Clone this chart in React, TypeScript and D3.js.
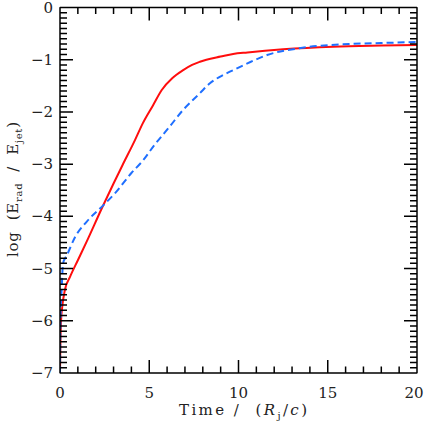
import { useRef, useEffect } from 'react'
import * as d3 from 'd3'

// red solid curve
const redTime = [0, 0.02, 0.06, 0.12, 0.28, 0.56, 1.0, 1.5, 2.35, 3.0, 3.5, 4.2, 4.65, 5.2, 5.7, 6.3, 6.9, 7.4, 7.84, 8.2, 9.0, 9.7, 10.5, 12.5, 15.3, 18, 20]
const redLog = [-7, -6.5, -6.0, -5.75, -5.4, -5.16, -4.84, -4.48, -3.84, -3.37, -3.02, -2.54, -2.21, -1.88, -1.58, -1.35, -1.2, -1.1, -1.04, -1.0, -0.94, -0.89, -0.86, -0.8, -0.75, -0.73, -0.72]

// blue dashed curve
const blueTime = [0, 0.02, 0.1, 0.17, 0.38, 0.84, 1.5, 2.45, 3.1, 4.0, 4.6, 5.3, 6.1, 6.9, 7.84, 8.4, 9.1, 9.7, 10.5, 11.6, 13.4, 16.2, 18, 20]
const blueLog = [-7, -6.1, -5.35, -4.9, -4.75, -4.4, -4.1, -3.78, -3.55, -3.17, -2.95, -2.63, -2.3, -1.96, -1.64, -1.45, -1.3, -1.2, -1.07, -0.91, -0.78, -0.7, -0.68, -0.66]

const xMajor = [0, 5, 10, 15, 20]
const xMinor = d3.range(0, 21, 1)
const yMajor = [0, -1, -2, -3, -4, -5, -6, -7]
const yMinor = d3.range(0, 71).map(i => -i / 10)

const width = 425
const height = 425
const margin = { top: 7.5, left: 60, bottom: 52, right: 8 }
const font = "'DejaVu Serif', 'Liberation Serif', serif"

const App = () => {
  const svgRef = useRef<SVGSVGElement>(null)

  useEffect(() => {
    const svg = d3.select(svgRef.current).attr('width', width).attr('height', height)
    svg.selectAll('*').remove()

    const x = d3.scaleLinear().domain([0, 20]).range([margin.left, width - margin.right])
    const y = d3.scaleLinear().domain([-7, 0]).range([height - margin.bottom, margin.top])

    svg.append('defs').append('clipPath').attr('id', 'plot')
      .append('rect')
      .attr('x', x(0)).attr('y', y(0))
      .attr('width', x(20) - x(0)).attr('height', y(-7) - y(0))

    // kurvat
    const series = [
      { t: redTime, v: redLog, color: '#ff0d0d', dash: 'none' },
      { t: blueTime, v: blueLog, color: '#1f6fff', dash: '7,4' },
    ]
    series.forEach(s => {
      const pts = s.t.map((t, i) => [t, s.v[i]] as [number, number])
      svg.append('path')
        .attr('clip-path', 'url(#plot)')
        .attr('fill', 'none')
        .attr('stroke', s.color)
        .attr('stroke-width', 2)
        .attr('stroke-dasharray', s.dash)
        .attr('d', d3.line<[number, number]>().x(d => x(d[0])).y(d => y(d[1])).curve(d3.curveMonotoneX)(pts))
    })

    // kehys ja tikit yhtenä jatkuvana polkuna (tikit "piikkeinä" reunalta sisään)
    const x0 = x(0), x1 = x(20), y0 = y(-7), y1 = y(0)
    const xLen = (t: number) => (xMajor.includes(t) ? 13 : 6.5)
    const yLen = (i: number) => (i % 10 === 0 ? 13 : 7)
    let d = `M${x0},${y0}`
    xMinor.forEach(t => { d += `H${x(t)}V${y0 - xLen(t)}V${y0}` })
    d += `H${x1}`
    yMinor.slice().reverse().forEach((v, k) => {
      const i = 70 - k
      d += `V${y(v)}H${x1 - yLen(i)}H${x1}`
    })
    d += `V${y1}`
    xMinor.slice().reverse().forEach(t => { d += `H${x(t)}V${y1 + xLen(t)}V${y1}` })
    d += `H${x0}`
    yMinor.forEach((v, i) => { d += `V${y(v)}H${x0 + yLen(i)}H${x0}` })
    d += 'Z'
    svg.append('path')
      .attr('d', d)
      .attr('fill', 'none')
      .attr('stroke', '#000')
      .attr('stroke-width', 1.5)
      .attr('stroke-linejoin', 'bevel')

    // tikkien tekstit
    svg.append('g')
      .selectAll('text')
      .data(xMajor)
      .join('text')
      .attr('x', v => x(v) - (v === 20 ? 3 : 0))
      .attr('y', y0 + 25)
      .attr('text-anchor', 'middle')
      .attr('font-family', font)
      .attr('font-size', 15)
      .attr('fill', '#222')
      .text(v => String(v))

    svg.append('g')
      .selectAll('text')
      .data(yMajor)
      .join('text')
      .attr('x', x0 - 7)
      .attr('y', v => y(v) + 5)
      .attr('text-anchor', 'end')
      .attr('font-family', font)
      .attr('font-size', 15)
      .attr('fill', '#222')
      .text(v => (v < 0 ? '\u2212' + Math.abs(v) : String(v)))

    // akselien otsikot
    const xt = svg.append('text')
      .attr('x', 179)
      .attr('y', 415)
      .attr('textLength', 128)
      .attr('lengthAdjust', 'spacing')
      .attr('font-family', font)
      .attr('font-size', 15)
      .attr('fill', '#222')
      .attr('xml:space', 'preserve')
    xt.append('tspan').text('Time /  (')
    xt.append('tspan').attr('font-style', 'italic').text('R')
    xt.append('tspan').attr('font-size', 10).attr('dy', 4).text('j')
    xt.append('tspan').attr('dy', -4).text('/')
    xt.append('tspan').attr('font-style', 'italic').text('c')
    xt.append('tspan').text(')')

    const yt = svg.append('text')
      .attr('transform', `translate(18, 257) rotate(-90)`)
      .attr('textLength', 135)
      .attr('lengthAdjust', 'spacing')
      .attr('font-family', font)
      .attr('font-size', 15)
      .attr('fill', '#222')
      .attr('xml:space', 'preserve')
    yt.append('tspan').text('log  (E')
    yt.append('tspan').attr('font-size', 10).attr('dy', 4).text('rad')
    yt.append('tspan').attr('dy', -4).text('  /  E')
    yt.append('tspan').attr('font-size', 10).attr('dy', 4).text('jet')
    yt.append('tspan').attr('dy', -4).text(')')
  }, [])

  return (
    <div style={{ position: 'absolute', left: 0, top: 0 }}>
      <svg ref={svgRef}></svg>
    </div>
  )
}

export default App
